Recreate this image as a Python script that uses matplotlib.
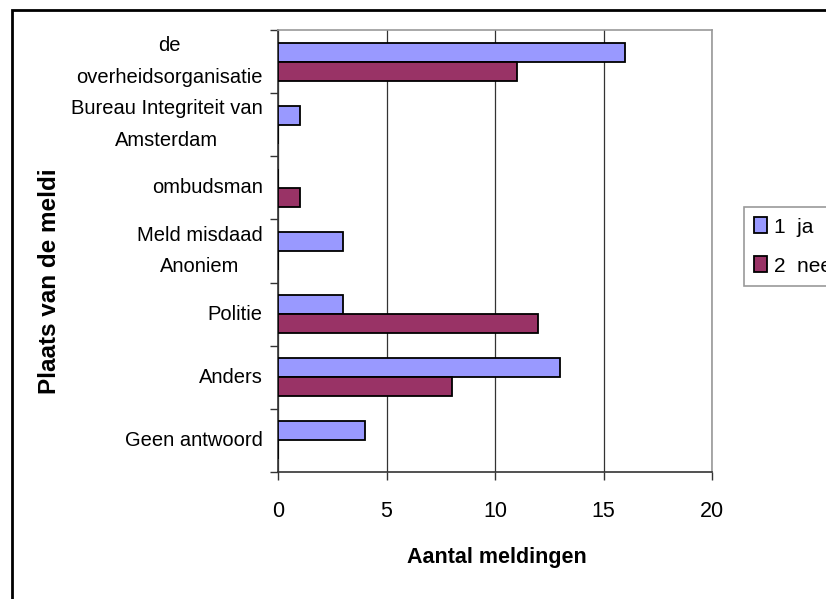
import matplotlib
matplotlib.use("Agg")
import matplotlib.pyplot as plt
from matplotlib.patches import Rectangle, Patch
import numpy as np

plt.rcParams['font.family'] = ['Liberation Sans', 'DejaVu Sans']

categories = ["de\noverheidsorganisatie", "Bureau Integriteit van\nAmsterdam", "ombudsman",
              "Meld misdaad\nAnoniem", "Politie", "Anders", "Geen antwoord"]
ja = [16, 1, 0, 3, 3, 13, 4]
nee = [11, 0, 1, 0, 12, 8, 0]
series_labels = ["1  ja", "2  nee"]
xticks = [0, 5, 10, 15, 20]

W, H = 826, 599
fig = plt.figure(figsize=(W / 100, H / 100), dpi=100)
# plot area in pixels: x 278..712, y 30..472
ax = fig.add_axes([278 / W, 1 - 472 / H, (712 - 278) / W, (472 - 30) / H])

y = np.arange(len(categories))
bh = 0.3
c_ja = '#9999FF'
c_nee = '#993366'
ax.barh(y - bh / 2, ja, height=bh, color=c_ja, edgecolor='black', linewidth=1.3, zorder=3)
ax.barh(y + bh / 2, nee, height=bh, color=c_nee, edgecolor='black', linewidth=1.3, zorder=3)

ax.set_ylim(len(categories) - 0.5, -0.5)
ax.set_xlim(0, 20)
ax.set_xticks(xticks)
ax.set_xticklabels([str(t) for t in xticks], fontsize=15.5)
ax.tick_params(axis='x', length=6, width=1, pad=15, color='#333333')
ax.xaxis.grid(True, color='#333333', linewidth=0.9, zorder=0)

ax.set_yticks(y)
ax.set_yticklabels(categories, fontsize=14.5, multialignment='center', linespacing=1.85,
                   va='center')
ax.tick_params(axis='y', which='major', length=0, pad=11)
ax.set_yticks(np.arange(-0.5, len(categories) + 0.5, 1), minor=True)
ax.tick_params(axis='y', which='minor', length=6, width=1, color='#333333')

for s in ['top', 'right']:
    ax.spines[s].set_color('#999999')
    ax.spines[s].set_linewidth(1.2)
for s in ['left', 'bottom']:
    ax.spines[s].set_color('#333333')
    ax.spines[s].set_linewidth(1.2)

fig.text(497 / W, 1 - 557 / H, "Aantal meldingen", ha='center', va='center',
         fontsize=15.5, fontweight='bold')
fig.text(50 / W, 1 - 281 / H, "Plaats van de meldi", ha='center', va='center',
         rotation=90, fontsize=17.5, fontweight='bold')

handles = [Patch(facecolor=c_ja, edgecolor='black', linewidth=1.3),
           Patch(facecolor=c_nee, edgecolor='black', linewidth=1.3)]
leg = fig.legend(handles, series_labels, loc='upper left',
                 bbox_to_anchor=(744 / W, 1 - 207 / H), borderaxespad=0,
                 fontsize=15, handlelength=0.6, handleheight=0.8, handletextpad=0.35,
                 labelspacing=0.95, borderpad=0.5, fancybox=False, frameon=True)
leg.get_frame().set_edgecolor('#808080')
leg.get_frame().set_linewidth(1.2)

border = Rectangle((12 / W, -0.2), 1.2, 1 - 10 / H + 0.2, transform=fig.transFigure,
                   fill=False, edgecolor='black', linewidth=2, clip_on=False)
fig.patches.append(border)

fig.savefig("out.png", dpi=100)
